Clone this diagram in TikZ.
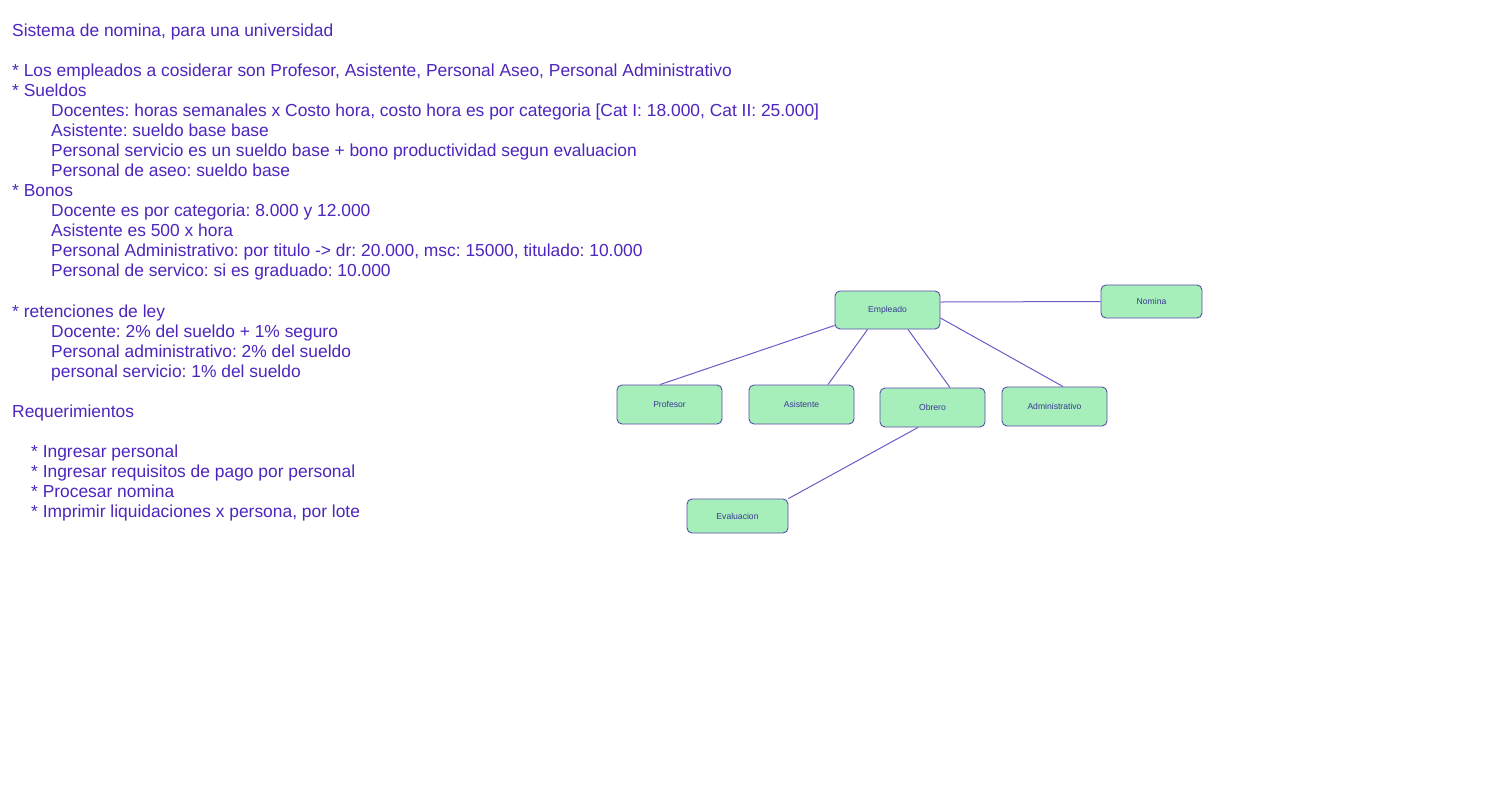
\documentclass[tikz,border=0pt]{standalone}
\usepackage{fontspec}
\setmainfont{Liberation Sans}
\frenchspacing
\definecolor{txtc}{RGB}{78,38,190}
\definecolor{boxfill}{RGB}{166,238,186}
\definecolor{boxdraw}{RGB}{88,78,170}
\definecolor{boxtxt}{RGB}{60,56,150}
\definecolor{linec}{RGB}{108,92,200}
\begin{document}
\begin{tikzpicture}[x=1pt,y=-1pt,
  txt/.style={anchor=base west,inner sep=0pt,text=txtc,font=\fontsize{17.4}{20}\selectfont},
  ent/.style={draw=boxdraw,fill=boxfill,rounded corners=5pt,line width=0.9pt,text=boxtxt,
    font=\fontsize{8.6}{10}\selectfont,inner sep=0pt},
  conn/.style={draw=linec,line width=1pt}]
\useasboundingbox (0,0) rectangle (1485,796);
\fill[white] (0,0) rectangle (1485,796);
% left text
\node[txt] (t0) at (12,36) {Sistema de nomina, para una universidad};
\node[txt] (t1) at (12,76) {* Los empleados a cosiderar son Profesor, Asistente, Personal Aseo, Personal Administrativo};
\node[txt] (t2) at (12,96) {* Sueldos};
\node[txt] (t3) at (51,116) {Docentes: horas semanales x Costo hora, costo hora es por categoria [Cat I: 18.000, Cat II: 25.000]};
\node[txt] (t4) at (51,136) {Asistente: sueldo base base};
\node[txt] (t5) at (51,156) {Personal servicio es un sueldo base + bono productividad segun evaluacion};
\node[txt] (t6) at (51,176) {Personal de aseo: sueldo base};
\node[txt] (t7) at (12,196) {* Bonos};
\node[txt] (t8) at (51,216) {Docente es por categoria: 8.000 y 12.000};
\node[txt] (t9) at (51,236) {Asistente es 500 x hora};
\node[txt] (t10) at (51,256) {Personal Administrativo: por titulo -> dr: 20.000, msc: 15000, titulado: 10.000};
\node[txt] (t11) at (51,276) {Personal de servico: si es graduado: 10.000};
\node[txt] (t12) at (12,317) {* retenciones de ley};
\node[txt] (t13) at (51,337) {Docente: 2\% del sueldo + 1\% seguro};
\node[txt] (t14) at (51,357) {Personal administrativo: 2\% del sueldo};
\node[txt] (t15) at (51,377) {personal servicio: 1\% del sueldo};
\node[txt] (t16) at (12,417) {Requerimientos};
\node[txt] (t17) at (31,457) {* Ingresar personal};
\node[txt] (t18) at (31,477) {* Ingresar requisitos de pago por personal};
\node[txt] (t19) at (31,497) {* Procesar nomina};
\node[txt] (t20) at (31,517) {* Imprimir liquidaciones x persona, por lote};
% diagram
\node[ent,minimum width=105pt,minimum height=38pt] (emp) at (887.5,310) {Empleado};
\node[ent,minimum width=101pt,minimum height=33pt] (nom) at (1151.5,301.5) {Nomina};
\node[ent,minimum width=105pt,minimum height=39pt] (prof) at (669.5,404.5) {Profesor};
\node[ent,minimum width=105pt,minimum height=39pt] (asis) at (801.5,404.5) {Asistente};
\node[ent,minimum width=105pt,minimum height=39pt] (obr) at (932.5,407.5) {Obrero};
\node[ent,minimum width=105pt,minimum height=39pt] (adm) at (1054.5,406.5) {Administrativo};
\node[ent,minimum width=101pt,minimum height=34pt] (eva) at (737.5,516) {Evaluacion};
\draw[conn] ([yshift=8pt]emp.east) -- (nom.west);
\draw[conn] ([yshift=4pt]emp.south west) -- ([xshift=-9.5pt]prof.north);
\draw[conn] ([xshift=33pt]emp.south west) -- ([xshift=26.5pt]asis.north);
\draw[conn] ([xshift=20.5pt]emp.south) -- ([xshift=17.5pt]obr.north);
\draw[conn] ([yshift=-8pt]emp.east) -- ([xshift=8.5pt]adm.north);
\draw[conn] ([xshift=-14.5pt]obr.south) -- (eva.north east);
\end{tikzpicture}
\end{document}
